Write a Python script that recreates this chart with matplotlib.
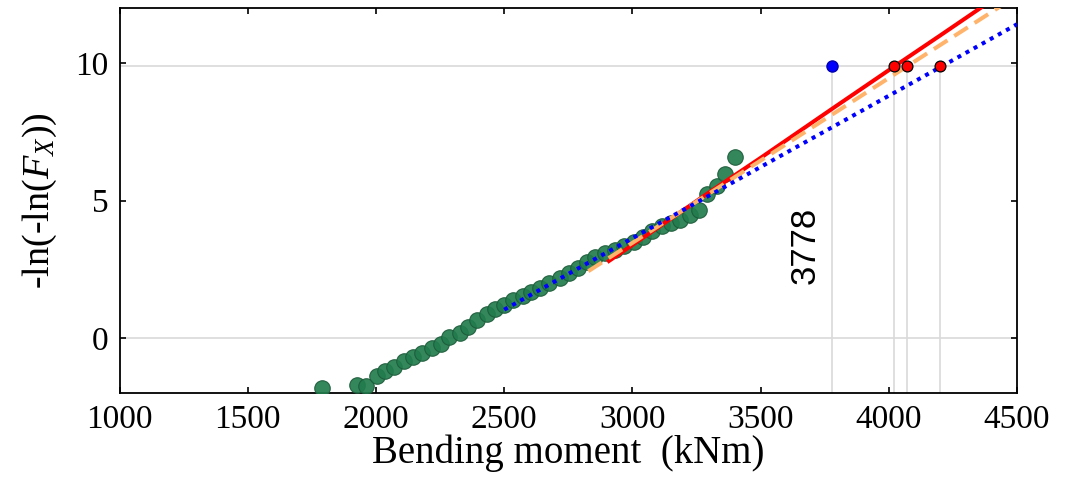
import matplotlib
matplotlib.use("Agg")
import matplotlib.pyplot as plt

# ---- data ----
green_x = [1788, 1926, 1963, 2004, 2037, 2070, 2111, 2145, 2178, 2219, 2254, 2286,
           2327, 2360, 2393, 2433, 2466, 2498, 2533, 2572, 2605, 2641, 2675, 2717,
           2752, 2787, 2822, 2856, 2893, 2932, 2967, 3006, 3042, 3077, 3116, 3151,
           3186, 3225, 3259, 3291, 3329, 3363, 3400]
green_y = [-1.82, -1.70, -1.73, -1.38, -1.20, -1.07, -0.83, -0.69, -0.53, -0.38, -0.21, 0.04,
           0.17, 0.41, 0.64, 0.88, 1.04, 1.19, 1.37, 1.51, 1.66, 1.81, 2.01, 2.17,
           2.35, 2.55, 2.75, 2.93, 3.08, 3.20, 3.35, 3.48, 3.66, 3.88, 4.07, 4.18,
           4.30, 4.48, 4.64, 5.24, 5.53, 5.95, 6.58]

red_x = [2902, 3100, 3300, 3500, 3778, 4022, 4200, 4400]
red_y = [2.76, 4.02, 5.30, 6.55, 8.33, 9.88, 11.00, 12.27]

orange_x = [2828, 3000, 3300, 3600, 3778, 4071, 4300, 4500]
orange_y = [2.43, 3.46, 5.26, 7.05, 8.12, 9.88, 11.25, 12.45]

blue_x = [2500, 3000, 3500, 3778, 4199, 4500]
blue_y = [1.03, 3.63, 6.22, 7.66, 9.84, 11.41]

level = 9.88
fit_x = [3778]
cross_x = [4022, 4071, 4199]
label_3778 = "3778"

xticks = [1000, 1500, 2000, 2500, 3000, 3500, 4000, 4500]
yticks = [0, 5, 10]

plt.rcParams['font.family'] = ['Liberation Serif', 'DejaVu Serif']
plt.rcParams['mathtext.fontset'] = 'custom'
plt.rcParams['mathtext.rm'] = 'Liberation Serif'
plt.rcParams['mathtext.it'] = 'Liberation Serif:italic'

fig = plt.figure(figsize=(10.76, 4.83), dpi=100)
ax = fig.add_axes([0.1111, 0.1863, 0.8341, 0.7971])

ax.set_xlim(1000, 4500)
ax.set_ylim(-2, 12)

# reference lines
ax.axhline(0, color='#d9d9d9', lw=1.2, zorder=1)
ax.axhline(level, color='#d9d9d9', lw=1.2, zorder=1)
for xv in fit_x + cross_x:
    ax.plot([xv, xv], [-2, level], color='#d9d9d9', lw=1.2, zorder=1)

ax.scatter(green_x, green_y, s=125, facecolor='#227c4d', edgecolor='#1d5c3b',
           linewidth=0.8, alpha=0.92, zorder=3)

ax.plot(red_x, red_y, color='#ff0000', lw=2.9, zorder=4, solid_capstyle='butt')
ax.plot(orange_x, orange_y, color='#ffb36b', lw=2.9, ls=(0, (4, 2)), zorder=4)
ax.plot(blue_x, blue_y, color='#0000ff', lw=2.9, ls=(0, (1, 1.3)), zorder=5)

ax.plot(fit_x, [level] * len(fit_x), 'o', ms=8, mfc='#0000ff', mec='#0000b0',
        mew=1, zorder=6)
ax.plot(cross_x, [level] * len(cross_x), 'o', ms=7.8, mfc='#ff0000', mec='#000000',
        mew=0.9, zorder=6)

ax.text(3673, 3.36, label_3778, rotation=90, ha='center', va='center',
        fontsize=25, family=['Liberation Sans', 'DejaVu Sans'])

ax.set_xticks(xticks)
ax.set_yticks(yticks)
ax.tick_params(direction='in', length=4, width=1.2, top=True, right=True,
               labelsize=24, pad=8)
for s in ax.spines.values():
    s.set_linewidth(1.3)

ax.set_xlabel('Bending moment  (kNm)', fontsize=28, labelpad=0)
ax.set_ylabel(r'-ln(-ln($\mathit{F}_{\mathit{X}}$))', fontsize=27.5)
ax.yaxis.set_label_coords(-0.067, 0.5)

fig.savefig('out.png', dpi=100)
